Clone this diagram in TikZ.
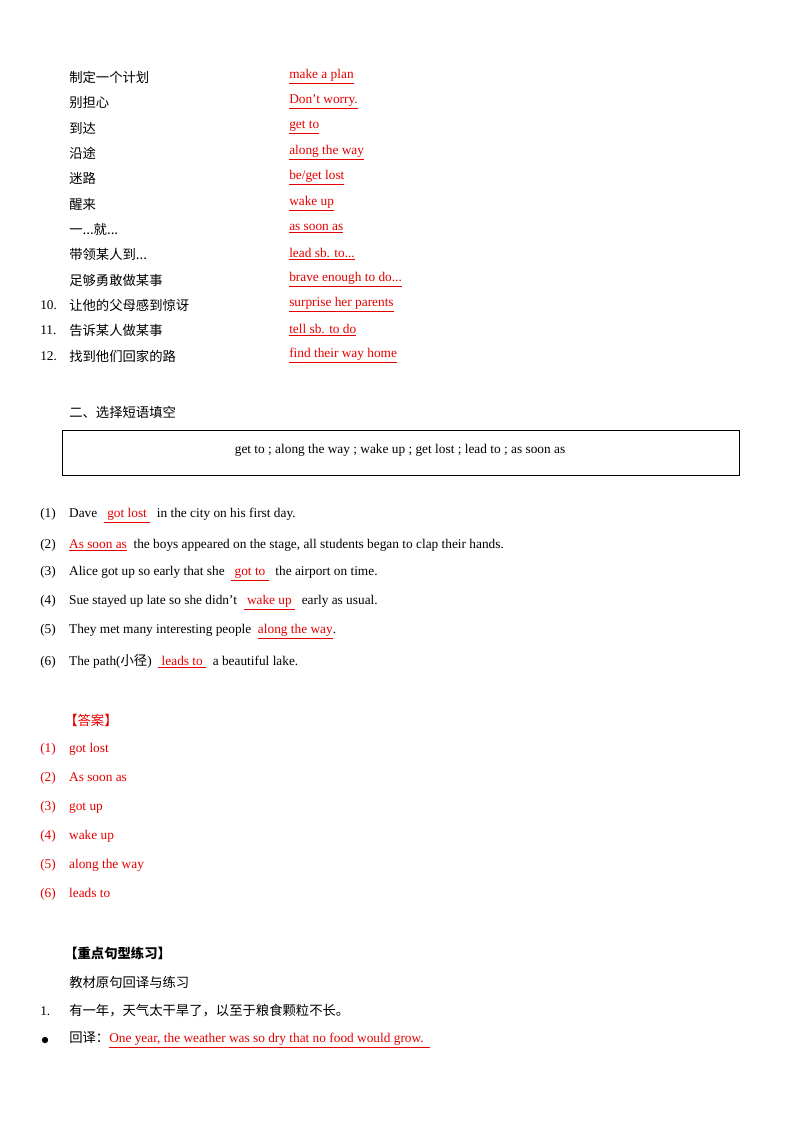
\documentclass[tikz,border=0pt]{standalone}
\usepackage{fontspec}
\setmainfont{Liberation Serif}
\newfontfamily\cjk{Noto Sans CJK SC}
\definecolor{ans}{RGB}{230,0,0}
\newcommand\dd{...}
\begin{document}
\begin{tikzpicture}[x=0.75pt,y=-0.75pt,
  t/.style={anchor=west,inner sep=0pt,font=\fontsize{10}{12}\selectfont},
  r/.style={t,text=ans}]
\useasboundingbox[fill=white] (0,0) rectangle (800,1132);
\newcommand\ul[1]{\underline{#1}}
% vocabulary list
\foreach \y/\c/\e [count=\i] in {77/制定一个计划/make a plan,102/别担心/Don’t worry.,128/到达/get to,153/沿途/along the way,178/迷路/be\slash get lost,204/醒来/wake up,229/一\dd 就\dd/as soon as,254/带领某人到\dd/lead sb. to\dd,280/足够勇敢做某事/brave enough to do\dd,305/让他的父母感到惊讶/surprise her parents,330/告诉某人做某事/tell sb. to do,356/找到他们回家的路/find their way home}{
  \node[t] (c\i) at (69,\y) {\cjk \c};
  \node[r] (e\i) at (289,\y) {\ul{\e}};
}
\node[t] (n10) at (40,305) {10.};
\node[t] (n11) at (40,330) {11.};
\node[t] (n12) at (40,356) {12.};
\node[t] (h2) at (69,412) {\cjk 二、选择短语填空};
\draw[line width=0.7pt] (62,430) rectangle (739,475);
\node[t,anchor=center] (box) at (400,450) {get to ; along the way ; wake up ; get lost ; lead to ; as soon as};
% sentences
\node[t] (s1) at (40,516) {(1)\hspace{10pt}Dave \ \textcolor{ans}{\ul{\ got lost\ }} \ in the city on his first day.};
\node[t] (s2) at (40,545) {(2)\hspace{10pt}\textcolor{ans}{\ul{As soon as}} \ the boys appeared on the stage, all students began to clap their hands.};
\node[t] (s3) at (40,574) {(3)\hspace{10pt}Alice got up so early that she \ \textcolor{ans}{\ul{\ got to\ }} \ the airport on time.};
\node[t] (s4) at (40,603) {(4)\hspace{10pt}Sue stayed up late so she didn’t \ \textcolor{ans}{\ul{\ wake up\ }} \ early as usual.};
\node[t] (s5) at (40,632) {(5)\hspace{10pt}They met many interesting people \ \textcolor{ans}{\ul{along the way}}.};
\node[t] (s6) at (40,661) {(6)\hspace{10pt}The path({\cjk 小径}) \ \textcolor{ans}{\ul{\ leads to\ }} \ a beautiful lake.};
% answers
\node[r] (ans) at (64,720) {\cjk 【答案】};
\foreach \y/\a [count=\i] in {749/got lost,778/As soon as,807/got up,836/wake up,865/along the way,894/leads to}{
  \node[r] (a\i) at (40,\y) {(\i)\hspace{10pt}\a};
}
\node[t] (k) at (64,953) {\cjk\bfseries 【重点句型练习】};
\node[t] (k2) at (69,982) {\cjk 教材原句回译与练习};
\node[t] (q1n) at (40,1011) {1.};
\node[t] (q1) at (69,1011) {\cjk 有一年，天气太干旱了，以至于粮食颗粒不长。};
\fill (45,1040) circle (3.2);
\node[t] (hy) at (69,1040) {{\cjk 回译：}\textcolor{ans}{\ul{One year, the weather was so dry that no food would grow.\ \ }}};
\end{tikzpicture}
\end{document}
